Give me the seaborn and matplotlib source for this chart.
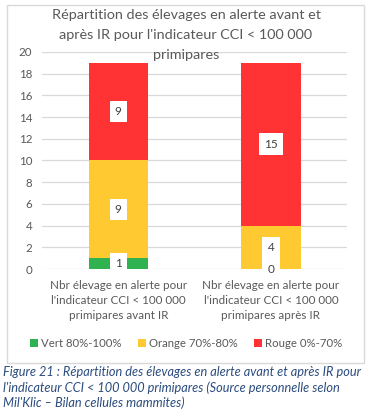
import numpy as np
import pandas as pd
import matplotlib
matplotlib.use("Agg")
import matplotlib.pyplot as plt
import seaborn as sns
from matplotlib.patches import Rectangle, Patch

# ── Data ─────────────────────────────────────────────────────
categories = [
    "Nbr élevage en alerte pour\nl'indicateur CCI < 100 000\nprimipares avant IR",
    "Nbr élevage en alerte pour\nl'indicateur CCI < 100 000\nprimipares après IR",
]
vert = [1, 0]
orange = [9, 4]
rouge = [9, 15]
series_names = ["Vert 80%-100%", "Orange 70%-80%", "Rouge 0%-70%"]
y_ticks = list(range(0, 21, 2))

title = ("Répartition des élevages en alerte avant et\n"
         "après IR pour l'indicateur CCI < 100 000\nprimipares")
caption = ("Figure 21 : Répartition des élevages en alerte avant et après IR pour\n"
           "l'indicateur CCI < 100 000 primipares (Source personnelle selon\n"
           "Mil'Klic – Bilan cellules mammites)")

COLORS = ["#2FB24F", "#FFC931", "#FF3333"]
TXT = "#595959"

sns.set_theme(style="white")
plt.rcParams["font.family"] = ["Lato", "DejaVu Sans"]

df = pd.DataFrame({"cat": categories, "vert": vert, "orange": orange, "rouge": rouge})
df["c1"] = df["vert"]
df["c2"] = df["c1"] + df["orange"]
df["c3"] = df["c2"] + df["rouge"]

fig = plt.figure(figsize=(3.72, 4.12), dpi=100)
ax = fig.add_axes([0.113, 0.347, 0.820, 0.527])

# gridlines below everything
for t in y_ticks:
    ax.axhline(t, color="#D9D9D9", lw=0.9, zorder=0)

# stacked bars: draw cumulative totals back to front
for col, color in zip(["c3", "c2", "c1"], COLORS[::-1]):
    sns.barplot(data=df, x="cat", y=col, color=color, width=0.39,
                saturation=1, errorbar=None, ax=ax)
for p in ax.patches:
    p.set_linewidth(0)
    p.set_edgecolor("none")
    p.set_zorder(2)

# data labels
for i in range(len(categories)):
    segs = [(0, df["c1"][i], vert[i]),
            (df["c1"][i], df["c2"][i], orange[i]),
            (df["c2"][i], df["c3"][i], rouge[i])]
    for lo, hi, v in segs:
        ax.text(i, (lo + hi) / 2, str(v), ha="center", va="center",
                fontsize=8.5, color="#404040", zorder=5,
                bbox=dict(boxstyle="square,pad=0.45", fc="white", ec="none"))

ax.set_ylim(0, 20)
ax.set_xlim(-0.5, 1.5)
ax.set_yticks(y_ticks)
ax.grid(False)
for s in ax.spines.values():
    s.set_visible(False)
ax.set_xlabel("")
ax.set_ylabel("")
ax.tick_params(axis="y", labelsize=8.3, colors=TXT, length=0, pad=7)
ax.tick_params(axis="x", labelsize=8.4, colors=TXT, length=0, pad=8)
for lbl in ax.get_xticklabels():
    lbl.set_linespacing(1.45)

fig.text(0.5, 0.977, title, ha="center", va="top", fontsize=10.4,
         color=TXT, linespacing=1.8)

handles = [Patch(facecolor=c, edgecolor="none") for c in COLORS]
fig.legend(handles, series_names, loc="center", bbox_to_anchor=(0.5, 0.167),
           ncol=3, frameon=False, fontsize=8.2, handlelength=0.7, handleheight=0.7,
           handletextpad=0.3, columnspacing=1.4, labelcolor=TXT)

# chart border
fig.patches.append(Rectangle((7 / 372, 1 - 363 / 412), 357 / 372, 358 / 412,
                             transform=fig.transFigure, fill=False,
                             ec="#D9D9D9", lw=1))

fig.text(0.008, 1 - 366 / 412, caption, ha="left", va="top", fontsize=9.2,
         style="italic", color="#2B4C7E", linespacing=1.3)

plt.savefig("out.png", dpi=100)
plt.close()
